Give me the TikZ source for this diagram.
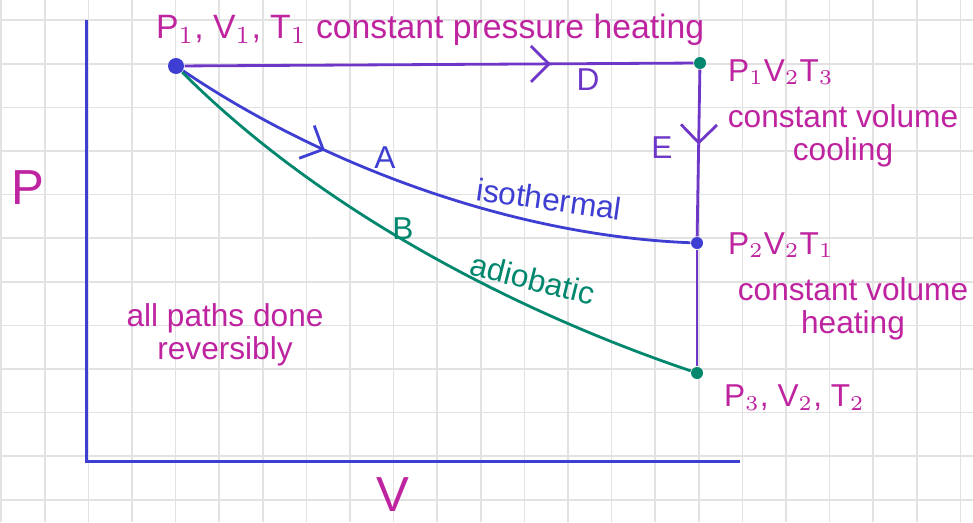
\documentclass[tikz,border=0pt]{standalone}
\usepackage{fontspec}
\setmainfont{Liberation Sans}
\usetikzlibrary{arrows.meta,positioning,decorations.markings}
\definecolor{pvmagenta}{RGB}{190,35,160}
\definecolor{pvblue}{RGB}{62,62,210}
\definecolor{pvpurple}{RGB}{110,55,200}
\definecolor{pvgreen}{RGB}{0,135,110}
\definecolor{pvgrid}{RGB}{226,226,226}

\begin{document}
\begin{tikzpicture}[x=0.1mm, y=-0.1mm,
  label/.style={font=\fontsize{9}{9.5}\selectfont, text=pvmagenta, align=center, inner sep=1pt},
  axislabel/.style={font=\fontsize{14}{16}\selectfont, text=pvmagenta, inner sep=1pt},
  state/.style={circle, fill, inner sep=0pt, minimum size=1.2mm},
  flow/.style={line width=0.28mm},
  axis/.style={line width=0.3mm, pvblue},
  midarrow/.style={decoration={markings, mark=at position #1 with
      {\arrow{Straight Barb[length=1.8mm, width=3.6mm]}}}, postaction={decorate}}
]
\useasboundingbox (0,0) rectangle (973,522);

%% grid paper
\foreach \gx in {0,...,22}
  \draw[pvgrid, line width=0.15mm] ({1.2+43.6*\gx},0) -- ({1.2+43.6*\gx},522);
\foreach \gy in {0,...,11}
  \draw[pvgrid, line width=0.15mm] (0,{20.2+43.6*\gy}) -- (973,{20.2+43.6*\gy});

%% axes
\coordinate (ytop) at (86,20);
\coordinate (xend) at (740,461);
\draw[axis] (ytop) |- (xend);
\node[axislabel] (plab) at (28,188) {P};
\node[axislabel] (vlab) at (393,495) {V};

%% states
\node[state, pvblue, minimum size=1.6mm] (s1) at (176,66) {};
\node[state, pvgreen] (s3) at (700,63) {};
\node[state, pvblue] (s2) at (697,243) {};
\node[state, pvgreen] (s4) at (697,373) {};

%% paths
\draw[flow, pvpurple, midarrow=0.72] (s1) -- (s3);
\draw[flow, pvpurple, midarrow=0.45] (s3) -- (s2);
\draw[flow, pvpurple] (s2) -- (s4);
\draw[flow, pvblue, midarrow=0.3] (s1) .. controls (330,170) and (520,236) .. (s2);
\draw[flow, pvgreen] (s1) .. controls (322,212) and (517,312) .. (s4);

%% labels
\node[label, font=\fontsize{9.6}{10}\selectfont, anchor=west] (top) at (152,30)
  {P$_1$, V$_1$, T$_1$ constant pressure heating};
\node[label, text=pvpurple] (dlab) at (588,80) {D};
\node[label, anchor=west] (st3) at (724,72) {P$_1$V$_2$T$_3$};
\node[label, text=pvpurple] (elab) at (662,148) {E};
\node[label] (cool) at (843,136) {constant volume\\cooling};
\node[label, anchor=west] (st2) at (724,245) {P$_2$V$_2$T$_1$};
\node[label] (heat) at (853,309) {constant volume\\heating};
\node[label, anchor=west] (st4) at (720,398) {P$_3$, V$_2$, T$_2$};
\node[label, text=pvblue] (alab) at (385,158) {A};
\node[label, text=pvblue, rotate=-8] (iso) at (549,199) {isothermal};
\node[label, text=pvgreen] (blab) at (403,229) {B};
\node[label, text=pvgreen, rotate=-14] (adi) at (533,279) {adiobatic};
\node[label] (note) at (225,335) {all paths done\\reversibly};

\end{tikzpicture}
\end{document}
